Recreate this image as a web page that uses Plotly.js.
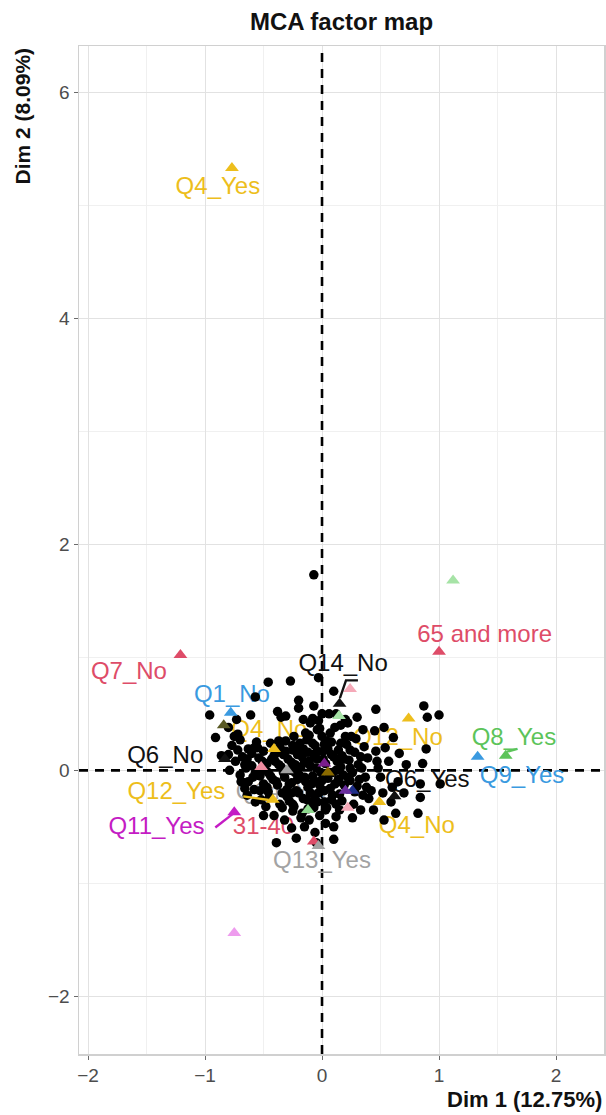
<!DOCTYPE html>
<html>
<head>
<meta charset="utf-8">
<script src="https://cdn.plot.ly/plotly-3.0.1.min.js"></script>
<style>
  html, body { margin: 0; padding: 0; background: #ffffff; }
  #chart { width: 606px; height: 1115px; }
</style>
</head>
<body>
<div id="chart"></div>
<script>
// Individuals: coordinates on Dim 1 / Dim 2
const indX = [
  -0.07, -0.46, -0.27, -0.03, -0.57, -0.07, -0.20, 0.10,
  -0.96, -0.73, -0.61, -0.38, -0.20, -0.03, 0.46, 0.87, 0.90, 1.00, 0.12, 0.30,
  -0.91, -0.80, -0.11, -0.04, 0.07, 0.16, 0.25, 0.35, 0.53, 0.61,
  -0.86, -0.77, -0.70, -0.63, -0.56, -0.50, -0.44, -0.38, -0.31, -0.25, -0.19, -0.12, -0.06, 0.01, 0.08, 0.14, 0.21, 0.28, 0.36, 0.46, 0.54, 0.89, 0.66,
  -0.74, -0.68, -0.60, -0.54, -0.47, -0.41, -0.35, -0.29, -0.23, -0.17, -0.10, -0.04, 0.03, 0.10, 0.16, 0.23, 0.31, 0.39, 0.48, 0.72, 0.86, 0.57,
  -0.70, -0.63, -0.57, -0.50, -0.44, -0.38, -0.32, -0.26, -0.20, -0.14, -0.08, -0.02, 0.05, 0.11, 0.18, 0.24, 0.30, 0.37, 0.50, 0.84, 0.65, 1.01,
  -0.64, -0.58, -0.52, -0.46, -0.34, -0.28, -0.22, -0.16, -0.10, -0.04, 0.02, 0.08, 0.15, 0.28, 0.42, 0.59, 0.84, 0.70,
  -0.41, -0.32, -0.25, -0.18, -0.12, -0.02, 0.04, 0.12, 0.33, 0.63, 0.82, 0.53, 0.26,
  -0.26, -0.22, -0.39, -0.06, -0.05, 0.10, 0.10, 0.03, -0.15,
  -0.60, -0.52, -0.36, -0.30, -0.24, -0.21, -0.13, -0.12, -0.07, -0.01, 0.05, 0.07, 0.13, 0.19, 0.20, 0.26, 0.33,
  -0.66, -0.48, -0.16, 0.00, 0.03, -0.34, -0.42, -0.27, -0.06, 0.12, 0.40, 0.45, -0.79, -0.72, 0.60,
  -0.65, -0.58, -0.47, -0.40, -0.33, -0.26, -0.15, -0.09, 0.02, 0.09, 0.17, 0.24, -0.53, -0.37, -0.23, -0.03, 0.14, 0.35,
  -0.31, -0.08, 0.06, 0.22, -0.69, -0.50, -0.25, -0.11, 0.15,
  -0.72, -0.66, -0.59, -0.55, -0.53, -0.51, -0.46, -0.45, -0.43, -0.39, -0.37, -0.36,
  -0.33, -0.31, -0.30, -0.28, -0.26, -0.25, -0.24, -0.23, -0.21, -0.20, -0.18, -0.17, -0.16, -0.15,
  -0.14, -0.13, -0.11, -0.10, -0.09, -0.08, -0.07, -0.05, -0.04, -0.03, -0.02, 0.00, 0.01, 0.02, 0.04, 0.06,
  0.08, 0.09, 0.11, 0.12, 0.14, 0.16, 0.17, 0.19, 0.22, 0.24, 0.27, 0.29, 0.32, 0.34, 0.38,
  0.44, 0.47, 0.52, -0.69, -0.64, -0.57, -0.75, -0.80, -0.35, 0.00, 0.20
];
const indY = [
  1.73, 0.78, 0.79, 0.82, 0.65, 0.57, 0.62, 0.70,
  0.49, 0.45, 0.49, 0.52, 0.55, 0.44, 0.54, 0.57, 0.47, 0.49, 0.50, 0.47,
  0.29, 0.38, 0.31, 0.36, 0.33, 0.40, 0.30, 0.36, 0.38, 0.29,
  0.13, 0.22, 0.27, 0.19, 0.25, 0.17, 0.24, 0.16, 0.26, 0.18, 0.24, 0.16, 0.22, 0.17, 0.25, 0.18, 0.23, 0.16, 0.21, 0.17, 0.20, 0.19, 0.15,
  0.08, 0.12, 0.04, 0.11, 0.06, 0.13, 0.03, 0.10, 0.05, 0.12, 0.04, 0.10, 0.06, 0.12, 0.03, 0.09, 0.05, 0.11, 0.02, 0.05, 0.06, 0.08,
  -0.04, -0.10, -0.02, -0.12, -0.05, -0.13, -0.06, -0.11, -0.03, -0.10, -0.05, -0.13, -0.07, -0.12, -0.04, -0.09, -0.14, -0.06, -0.06, -0.12, -0.10, -0.12,
  -0.22, -0.17, -0.26, -0.19, -0.20, -0.27, -0.18, -0.25, -0.20, -0.28, -0.18, -0.26, -0.21, -0.19, -0.18, -0.28, -0.24, -0.20,
  -0.40, -0.44, -0.36, -0.42, -0.34, -0.40, -0.33, -0.41, -0.35, -0.38, -0.38, -0.44, -0.42,
  -0.51, -0.60, -0.64, -0.55, -0.64, -0.61, -0.50, -0.47, -0.50,
  0.15, 0.00, 0.21, -0.17, 0.30, -0.08, 0.27, -0.15, 0.14, -0.02, 0.19, -0.16, 0.08, -0.13, 0.30, -0.02, 0.12,
  -0.16, -0.32, 0.45, 0.30, -0.35, -0.33, -0.08, 0.00, -0.22, -0.30, -0.25, 0.35, 0.00, 0.32, -0.15,
  0.02, 0.20, -0.15, 0.08, 0.14, -0.20, 0.07, -0.28, 0.23, -0.02, 0.13, 0.02, -0.05, 0.26, 0.19, -0.10, -0.08, -0.22,
  0.48, 0.46, 0.50, 0.42, -0.10, -0.40, -0.30, -0.44, -0.35,
  0.18, 0.05, -0.06, 0.20, -0.18, 0.08, -0.02, -0.24, 0.10, -0.10, 0.05, -0.30,
  -0.02, 0.17, -0.23, -0.12, 0.07, 0.22, -0.32, -0.02, 0.14, -0.20, 0.03, -0.38, 0.19, -0.06,
  0.33, -0.26, 0.08, 0.42, -0.12, 0.24, -0.33, 0.02, 0.17, -0.20, 0.37, -0.09, 0.10, -0.28, 0.26, -0.02,
  0.14, -0.22, 0.38, 0.00, -0.10, 0.24, -0.27, 0.10, -0.06, 0.18, -0.30, 0.28, -0.08, 0.02, -0.15,
  -0.35, 0.08, -0.20, -0.10, 0.10, -0.28, 0.30, 0.14, 0.47, 0.50, 0.45
];

// Active categories
const catNames = [
  "Q4_Yes", "Q7_No", "65 and more", "Q2_Yes", "21-30",
  "Q14_No", "41-50", "Q3_No", "Q1_No", "Q4_No",
  "Q12_No", "Q8_Yes", "Q9_Yes", "Q6_No", "Q6_Yes",
  "Q12_Yes", "Q14_Yes", "Q11_Yes", "31-40", "Q13_Yes",
  "Q4_No ", "Q3_Yes", "51-60", "Q10_No", "Q11_No",
  "Q5_No", "Q10_Yes", "Q7_Yes", "Q5_Yes"
];
const catX = [
  -0.77, -1.21, 1.00, 1.12, -0.75,
  0.15, 0.24, 0.145, -0.78, -0.41,
  0.74, 1.57, 1.33, -0.83, 0.62,
  -0.42, -0.30, -0.75, -0.07, -0.03,
  0.49, -0.12, 0.22, 0.26, 0.02,
  0.05, 0.20, -0.52, -0.84
];
const catY = [
  5.33, 1.02, 1.05, 1.68, -1.44,
  0.59, 0.72, 0.48, 0.51, 0.19,
  0.46, 0.13, 0.12, 0.10, -0.23,
  -0.26, 0.00, -0.37, -0.63, -0.67,
  -0.28, -0.35, -0.33, -0.18, 0.06,
  -0.02, -0.18, 0.03, 0.40
];
// which categories carry a text label
const catLabelled = [
  true, true, true, false, false,
  true, false, false, true, true,
  true, true, true, true, true,
  true, true, true, true, true,
  true, false, false, false, false,
  false, false, false, false
];

// Colour of each category marker and label
const catColors = [
  "#EDBE1C", "#DE4C68", "#DE4C68", "#A6E3A6", "#EE9CEE",
  "#111111", "#F5A9B8", "#A6E3A6", "#3A9AE0", "#EDBE1C",
  "#EDBE1C", "#5CC45A", "#3A9AE0", "#111111", "#111111",
  "#EDBE1C", "#A3A3A3", "#C41CC4", "#DE4C68", "#A3A3A3",
  "#EDBE1C", "#8FD98F", "#F5A9B8", "#1F2F8A", "#7A1E8C",
  "#8A6A00", "#6A2E9E", "#F08CA0", "#5A5A24"
];

// Repelled label placement (data units) for the labelled categories
const labelPlace = {
  "Q4_Yes": [-0.89, 5.15],
  "Q7_No": [-1.65, 0.86],
  "65 and more": [1.39, 1.19],
  "Q14_No": [0.18, 0.93],
  "Q1_No": [-0.77, 0.66],
  "Q4_No": [-0.45, 0.35],
  "Q12_No": [0.65, 0.28],
  "Q8_Yes": [1.64, 0.28],
  "Q9_Yes": [1.71, -0.06],
  "Q6_No": [-1.34, 0.115],
  "Q6_Yes": [0.90, -0.09],
  "Q12_Yes": [-1.245, -0.20],
  "Q14_Yes": [-0.32, -0.20],
  "Q11_Yes": [-1.415, -0.51],
  "31-40": [-0.50, -0.51],
  "Q13_Yes": [0.00, -0.81],
  "Q4_No ": [0.81, -0.50]
};
// Leader segments from label to marker (data units)
const leaders = {
  "Q14_No": [[0.307, 0.796], [0.205, 0.796], [0.153, 0.64]],
  "Q12_Yes": [[-0.673, -0.23], [-0.455, -0.262]],
  "Q11_Yes": [[-0.912, -0.505], [-0.762, -0.385]],
  "Q8_Yes": [[1.67, 0.19], [1.58, 0.165]]
};

const FONT = "Liberation Sans, Arial, Helvetica, sans-serif";
const X_RANGE = [-2.077, 2.41];
const Y_RANGE = [-2.51, 6.41];
const traces = [];

// dashed reference axes through the origin
const refLine = { color: "#000000", width: 2.6, dash: "9px,7px" };
traces.push({ type: "scatter", mode: "lines", x: [0, 0], y: Y_RANGE,
  line: refLine, hoverinfo: "skip", showlegend: false });
traces.push({ type: "scatter", mode: "lines", x: X_RANGE, y: [0, 0],
  line: refLine, hoverinfo: "skip", showlegend: false });

// labels sit underneath the point cloud
const lx = [], ly = [], lt = [], lc = [];
catNames.forEach((n, i) => {
  if (!catLabelled[i]) return;
  const p = labelPlace[n];
  lx.push(p[0]); ly.push(p[1]); lt.push(n.trim()); lc.push(catColors[i]);
});
traces.push({
  type: "scatter", mode: "text", x: lx, y: ly, text: lt,
  textposition: "middle center",
  textfont: { family: FONT, size: 24, color: lc },
  hoverinfo: "skip", showlegend: false, cliponaxis: false
});

// individuals
traces.push({
  type: "scatter", mode: "markers", x: indX, y: indY,
  marker: { symbol: "circle", size: 9.5, color: "#000000" },
  showlegend: false, hoverinfo: "x+y"
});

// categories
traces.push({
  type: "scatter", mode: "markers", x: catX, y: catY, text: catNames,
  marker: { symbol: "triangle-up", size: 12, color: catColors },
  showlegend: false, hoverinfo: "text"
});

// leader segments
Object.keys(leaders).forEach(k => {
  const i = catNames.indexOf(k);
  const pts = leaders[k];
  traces.push({
    type: "scatter", mode: "lines",
    x: pts.map(p => p[0]), y: pts.map(p => p[1]),
    line: { color: catColors[i], width: 2.4 },
    hoverinfo: "skip", showlegend: false
  });
});

const axisCommon = {
  showgrid: true, gridcolor: "#E2E2E2", gridwidth: 1,
  zeroline: false,
  showline: true, mirror: true, linecolor: "#D0D0D0", linewidth: 1.5,
  ticks: "outside", ticklen: 4, tickcolor: "#6A6A6A", tickwidth: 1,
  tickfont: { family: FONT, size: 19, color: "#4D4D4D" },
  minor: { dtick: 0.5, showgrid: true, gridcolor: "#F0F0F0", gridwidth: 1 }
};

const layout = {
  width: 606, height: 1115,
  margin: { l: 79, r: 2, t: 46, b: 61 },
  paper_bgcolor: "#ffffff", plot_bgcolor: "#ffffff",
  title: {
    text: "<b>MCA factor map</b>",
    font: { family: FONT, size: 24, color: "#111111" },
    x: 0.5, xanchor: "center", xref: "paper",
    y: 1 - 22 / 1115, yanchor: "middle"
  },
  xaxis: Object.assign({}, axisCommon, {
    range: X_RANGE, dtick: 1, tick0: 0
  }),
  yaxis: Object.assign({}, axisCommon, {
    range: Y_RANGE, dtick: 2, tick0: 0,
    minor: { dtick: 1, showgrid: true, gridcolor: "#F0F0F0", gridwidth: 1 }
  }),
  annotations: [
    { text: "<b>Dim 1 (12.75%)</b>", xref: "paper", yref: "paper",
      x: 1, y: 0, xanchor: "right", yanchor: "middle", yshift: -45,
      showarrow: false, font: { family: FONT, size: 22, color: "#111111" } },
    { text: "<b>Dim 2 (8.09%)</b>", xref: "paper", yref: "paper",
      x: 0, y: 1, xanchor: "center", yanchor: "top", xshift: -57,
      textangle: -90, showarrow: false,
      font: { family: FONT, size: 21, color: "#111111" } }
  ]
};

Plotly.newPlot("chart", traces, layout, { displayModeBar: false, staticPlot: true });
</script>
</body>
</html>
